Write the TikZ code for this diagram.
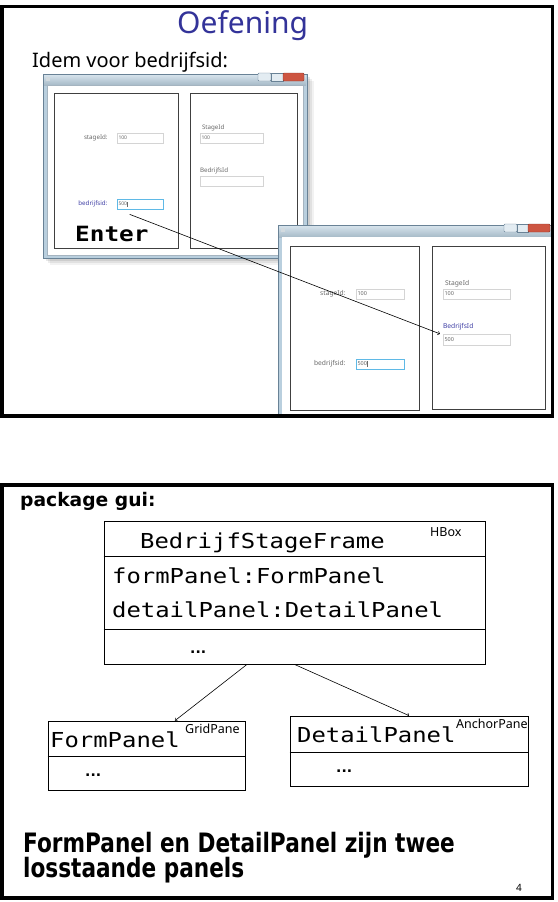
\documentclass[tikz,border=0pt]{standalone}
\usepackage{fontspec}
\setmainfont{Noto Sans}
\newfontfamily\codefont[FakeStretch=1.16]{DejaVu Sans Mono}
\newfontfamily\headfont[FakeStretch=0.81]{DejaVu Sans}
\newfontfamily\pkgfont{DejaVu Sans}
\usetikzlibrary{positioning}

\definecolor{oefblue}{RGB}{51,51,153}
\definecolor{winframe}{RGB}{185,207,222}
\definecolor{winedge}{RGB}{105,130,150}
\definecolor{closered}{RGB}{205,85,65}
\definecolor{focusblue}{RGB}{95,185,230}
\definecolor{fieldgrey}{RGB}{105,105,105}
\newcommand{\fsz}[1]{\fontsize{#1}{#1}\selectfont}

\begin{document}
\begin{tikzpicture}[x=1pt,y=-1pt,
	field/.style={draw=black!17,fill=white,minimum height=10pt,inner sep=1.5pt,font=\fsz{5},text=fieldgrey,align=left},
	focusfield/.style={field,draw=focusblue,line width=0.7pt},
	lbl/.style={font=\fsz{6.2},text=fieldgrey,inner sep=0pt},
	panel/.style={draw=black!75,line width=0.8pt},
	code/.style={font=\codefont\fsz{20.6},anchor=base west,inner sep=0pt},
	umlbox/.style={draw,line width=0.8pt,inner sep=0pt},
	umlline/.style={line width=0.8pt},
	stereo/.style={font=\fsz{12.5},anchor=base west,inner sep=0pt},
	dots/.style={anchor=base west,font=\pkgfont\bfseries\fsz{14},inner sep=0pt}]
	\useasboundingbox (0,0) rectangle (557,902);

	%slide 1
	\node[anchor=base west,font=\fsz{30},text=oefblue,inner sep=0pt] (title) at (177,33) {Oefening};
	\node[anchor=base west,font=\fsz{20},inner sep=0pt] (idem) at (32,67) {Idem voor bedrijfsid:};

	%window 1
	\foreach \s/\o in {7/0.05,5/0.07,3/0.09}
		\fill[black,opacity=\o] (43+\s,74+\s) rectangle (307+\s,258+\s);
	\draw[winedge,fill=winframe] (43,74) rectangle (307,258);
	\shade[top color=winframe!60,bottom color=winframe!90!black] (44,75) rectangle (306,85);
	\fill[white] (47,85) rectangle (303,255);
	\draw[winedge!60] (47,85) rectangle (303,255);
	\fill[white!70!winedge] (46,77) rectangle (50,81);
	\draw[winedge,fill=winframe!40,rounded corners=1pt] (258,73) rectangle (271,81);
	\draw[winedge,fill=winframe!40] (271,73) rectangle (283,81);
	\draw[closered!70!black,fill=closered,rounded corners=1pt] (283,73) rectangle (304,81);
	\draw[panel] (54,93) rectangle (178,248);
	\draw[panel] (190,93) rectangle (297,248);
	%
	\node[field,text width=43pt] (wastage) at (140,138) {100};
	\node[lbl,left=9pt of wastage] (wastagelbl) {stageId:};
	\node[focusfield,text width=43pt] (wabedrijf) at (140,204) {500\rule[-1pt]{0.4pt}{5pt}};
	\node[lbl,left=9pt of wabedrijf,text=blue!40!fieldgrey] (wabedrijflbl) {bedrijfsid:};
	\node[code,font=\codefont\bfseries\fsz{21}] (enter) at (75,241) {Enter};
	%
	\node[field,text width=60pt] (wbstage) at (231.5,138) {100};
	\node[lbl,above right=2pt and 2pt of wbstage.north west] (wbstagelbl) {StageId};
	\node[field,text width=60pt] (wbbedrijf) at (231.5,181) {};
	\node[lbl,above right=2pt and 0pt of wbbedrijf.north west] (wbbedrijflbl) {BedrijfsId};

	%window 2
	\draw[winedge,fill=winframe] (278,225) rectangle (553,416);
	\shade[top color=winframe!60,bottom color=winframe!90!black] (279,226) rectangle (552,237);
	\fill[white] (282,237) rectangle (551,416);
	\fill[white!70!winedge] (281,228) rectangle (285,232);
	\draw[winedge,fill=winframe!40,rounded corners=1pt] (504,224) rectangle (517,232);
	\draw[winedge,fill=winframe!40] (517,224) rectangle (528,232);
	\draw[closered!70!black,fill=closered,rounded corners=1pt] (528,224) rectangle (550,232);
	\draw[panel] (290,246) rectangle (419,410);
	\draw[panel] (432,246) rectangle (545,409);
	%
	\node[field,text width=45pt,font=\fsz{5.5}] (wcstage) at (380,294) {100};
	\node[lbl,font=\fsz{6.7},left=10pt of wcstage] (wcstagelbl) {stageId:};
	\node[focusfield,text width=45pt,font=\fsz{5.5}] (wcbedrijf) at (380,364) {500\rule[-1pt]{0.4pt}{5.5pt}};
	\node[lbl,font=\fsz{6.7},left=10pt of wcbedrijf] (wcbedrijflbl) {bedrijfsid:};
	%
	\node[field,text width=64pt,font=\fsz{5.5}] (wdstage) at (476.5,294) {100};
	\node[lbl,font=\fsz{6.7},above right=1.5pt and 2pt of wdstage.north west] (wdstagelbl) {StageId};
	\node[field,text width=64pt,minimum height=11pt,font=\fsz{5.5}] (wdbedrijf) at (476.5,339.5) {500};
	\node[lbl,font=\fsz{6.7},text=blue!40!fieldgrey,above right=3pt and 0pt of wdbedrijf.north west] (wdbedrijflbl) {BedrijfsId};

	%arrow between the windows
	\draw[->,line width=0.6pt] ([xshift=13pt,yshift=-5pt]wabedrijf.south west) -- ([xshift=-3pt]wdbedrijf.north west);

	\draw[line width=3.5pt] (2,6.5) rectangle (552.5,416);

	%slide 2
	\draw[line width=3.5pt] (2,485) rectangle (552.5,898);
	\node[anchor=base west,font=\pkgfont\bfseries\fsz{18.7},inner sep=0pt] (pkg) at (20,506) {package gui:};

	%frame class
	\node[umlbox,minimum width=381pt,minimum height=143pt] (frame) at (294.5,592.5) {};
	\draw[umlline] (frame.west |- 0,556) -- (frame.east |- 0,556);
	\draw[umlline] (frame.west |- 0,629) -- (frame.east |- 0,629);
	\node[code] (framename) at (140,548) {BedrijfStageFrame};
	\node[stereo] (hbox) at (430,536) {HBox};
	\node[code] (formattr) at (112,583) {formPanel:FormPanel};
	\node[code] (detailattr) at (112,617) {detailPanel:DetailPanel};
	\node[dots] (framedots) at (190,653) {...};

	%panel classes
	\node[umlbox,minimum width=197pt,minimum height=69pt] (form) at (146.5,755.5) {};
	\draw[umlline] (form.west |- 0,756) -- (form.east |- 0,756);
	\node[code] (formname) at (50,747) {FormPanel};
	\node[stereo] (grid) at (185,733) {GridPane};
	\node[dots] (formdots) at (85,776) {...};
	%
	\node[umlbox,minimum width=238pt,minimum height=70pt] (detail) at (409,751) {};
	\draw[umlline] (detail.west |- 0,752) -- (detail.east |- 0,752);
	\node[code] (detailname) at (297,742) {DetailPanel};
	\node[stereo] (anchor) at (456,728) {AnchorPane};
	\node[dots] (detaildots) at (336,772) {...};

	%arrows
	\draw[->,line width=0.6pt] ([xshift=-47.5pt]frame.south) -- ([xshift=28.5pt]form.north);
	\draw[->,line width=0.6pt] (frame.south) -- (detail.north);

	%labels
	\node[anchor=base west,font=\headfont\bfseries\fsz{26.7},inner sep=0pt] (concl1) at (23,852) {FormPanel en DetailPanel zijn twee};
	\node[anchor=base west,font=\headfont\bfseries\fsz{26.7},inner sep=0pt] (concl2) at (23,877) {losstaande panels};
	\node[anchor=base west,font=\fsz{10},inner sep=0pt] (pagenr) at (516,891) {4};
\end{tikzpicture}
\end{document}
